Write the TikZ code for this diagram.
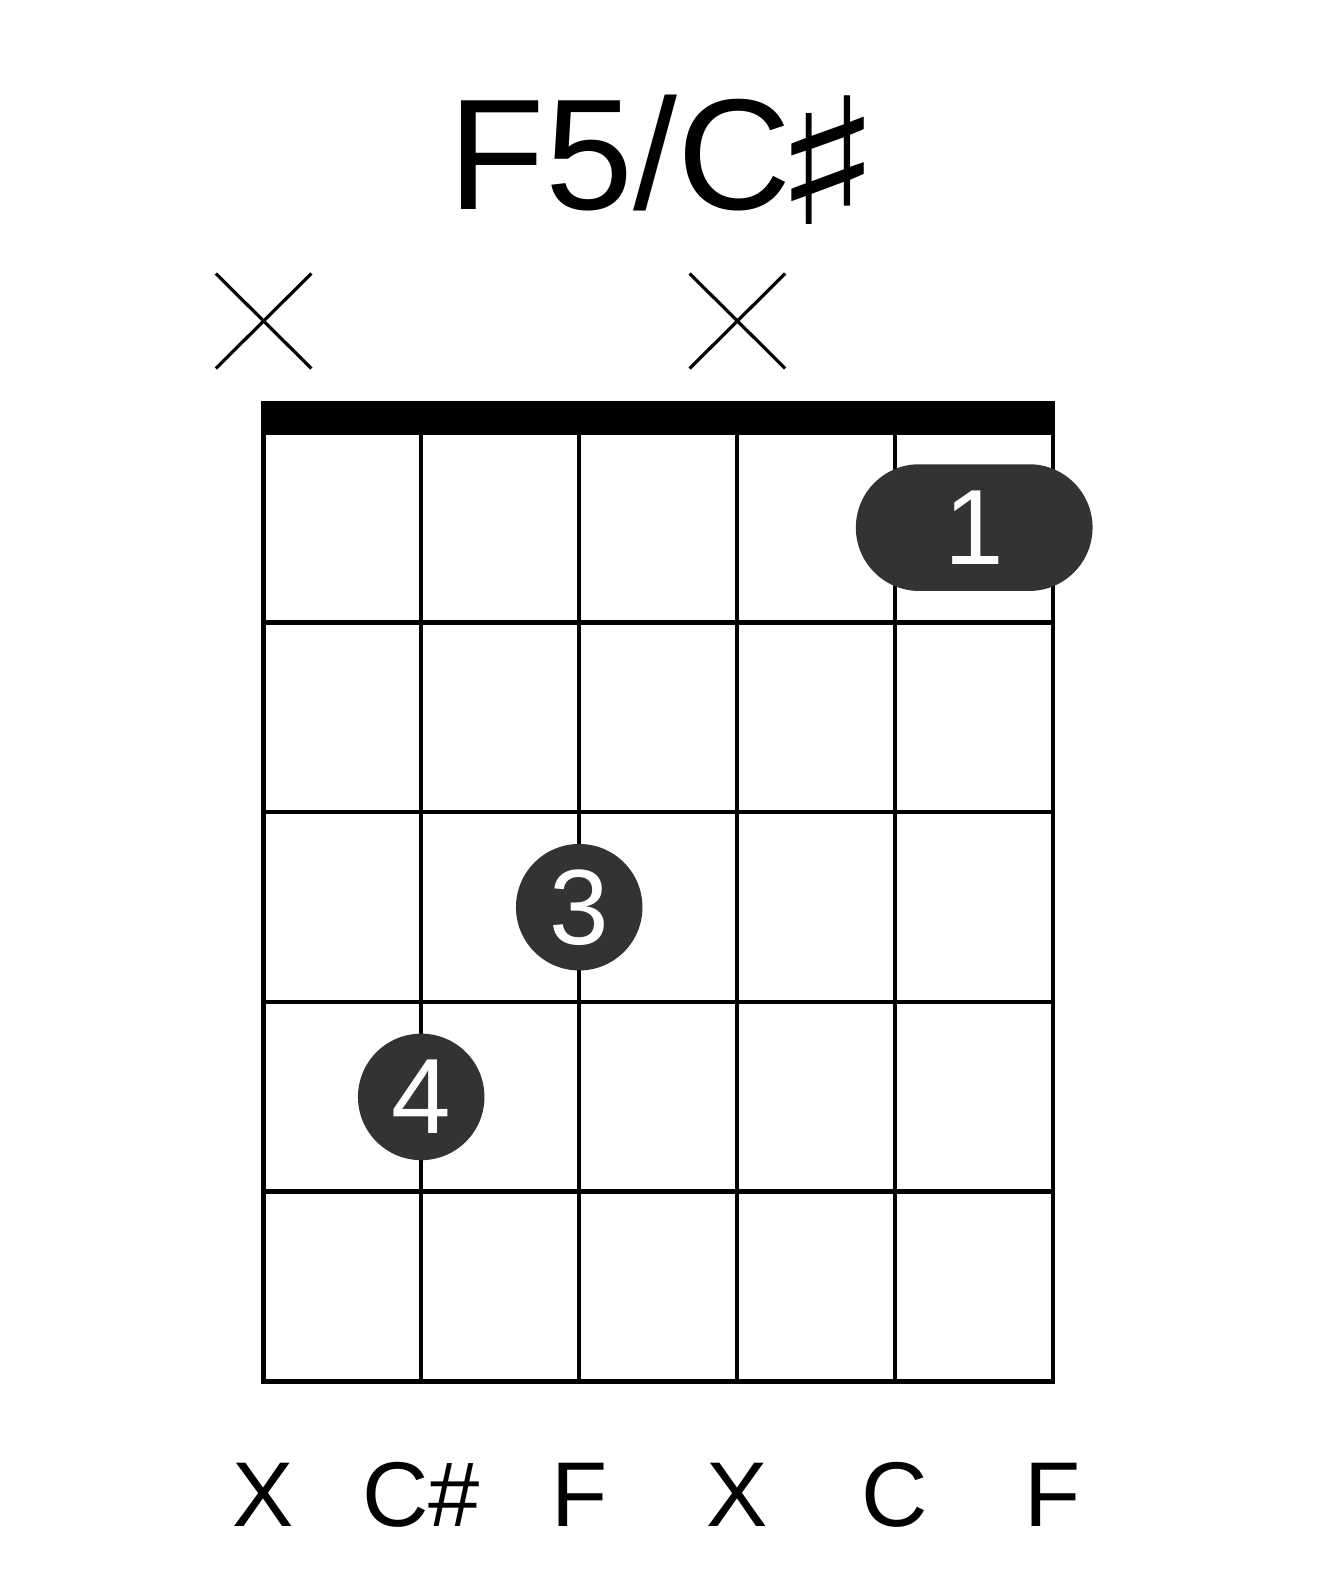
\documentclass[tikz,border=0pt]{standalone}
\usepackage{fontspec}
\setmainfont{Liberation Sans}
\newfontfamily\symfont{DejaVu Sans}
\usetikzlibrary{shapes.misc}
\definecolor{dotgray}{HTML}{333333}
\begin{document}
\begin{tikzpicture}[x=1pt,y=-1pt,
  gridline/.style={line width=4.5pt},
  mutemark/.style={line width=3.2pt},
  finger/.style={circle, fill=dotgray, text=white, minimum size=126.5pt, inner sep=0pt, font=\fontsize{107}{107}\selectfont},
  barre/.style={rounded rectangle, fill=dotgray, text=white, minimum width=236.7pt, minimum height=126.7pt, inner sep=0pt, font=\fontsize{107}{107}\selectfont},
  notelabel/.style={anchor=base, inner sep=0pt, font=\fontsize{92}{92}\selectfont},
]
\useasboundingbox (0,0) rectangle (1317,1581);
% title
\node[anchor=base west, inner sep=0pt, font=\fontsize{158}{158}\selectfont] (title) at (448.5,209.3) {F5/C\hspace{-18.5pt}\raisebox{-15.6pt}{\scalebox{1.45}[1.115]{\symfont ♯}}};
% mute marks
\foreach \n/\x in {m1/263.6, m4/737.4} {
  \coordinate (\n a) at (\x-47.8,273.5);
  \coordinate (\n b) at (\x+47.8,368.5);
  \coordinate (\n c) at (\x-47.8,368.5);
  \coordinate (\n d) at (\x+47.8,273.5);
  \draw[mutemark] (\n a) -- (\n b);
  \draw[mutemark] (\n c) -- (\n d);
}
% nut
\coordinate (nutA) at (261,400.7);
\coordinate (nutB) at (1055.3,432.7);
\fill (nutA) rectangle (nutB);
% grid
\coordinate (gTL) at (263.3,432.7);
\coordinate (gBR) at (1053,1381.3);
\draw[gridline] (gTL) rectangle (gBR);
\foreach \i in {1,...,4} {
  \coordinate (s\i t) at ({263.3+157.94*\i},432.7);
  \coordinate (s\i b) at ({263.3+157.94*\i},1381.3);
  \draw[gridline] (s\i t) -- (s\i b);
}
\foreach \j in {1,...,4} {
  \coordinate (f\j l) at (263.3,{432.7+189.72*\j});
  \coordinate (f\j r) at (1053,{432.7+189.72*\j});
  \draw[gridline] (f\j l) -- (f\j r);
}
% fingers
\node[barre] (b1) at (974.2,527.6) {1};
\node[finger] (d3) at (579.2,907.2) {3};
\node[finger] (d4) at (421.2,1096.9) {4};
% string labels
\node[notelabel] (l1) at (263.3,1526.7) {X};
\node[notelabel] (l2) at (421.2,1526.7) {C\#};
\node[notelabel] (l3) at (579.2,1526.7) {F};
\node[notelabel] (l4) at (737.1,1526.7) {X};
\node[notelabel] (l5) at (895.1,1526.7) {C};
\node[notelabel] (l6) at (1053,1526.7) {F};
\end{tikzpicture}
\end{document}
